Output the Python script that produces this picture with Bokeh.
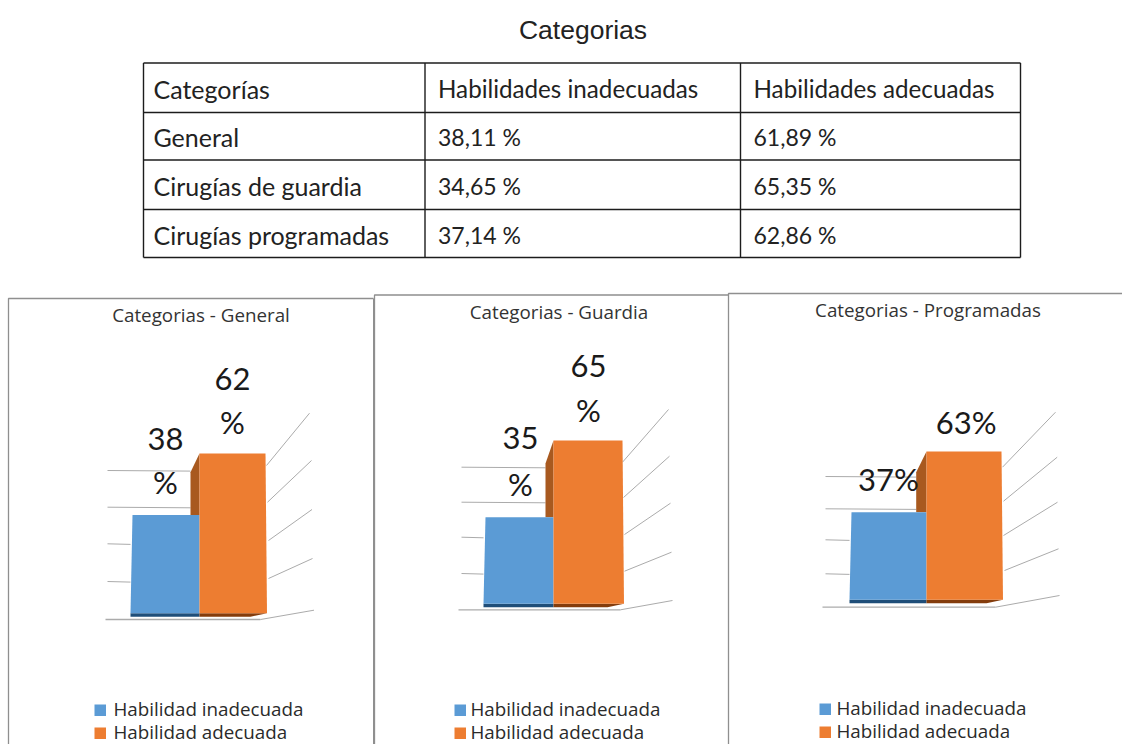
from bokeh.core.properties import value
from bokeh.embed import file_html
from bokeh.models import Range1d
from bokeh.plotting import figure
from bokeh.resources import INLINE

# ---- data ----
categories = ["General", "Cirugías de guardia", "Cirugías programadas"]
inadequate = [38.11, 34.65, 37.14]
adequate = [61.89, 65.35, 62.86]
table_header = ["Categorías", "Habilidades inadecuadas", "Habilidades adecuadas"]
panel_titles = ["Categorias - General", "Categorias - Guardia", "Categorias - Programadas"]
legend_labels = ["Habilidad inadecuada", "Habilidad adecuada"]
page_title = "Categorias"

BLUE, ORANGE = "#5B9BD5", "#ED7D31"
BLUE_FOOT, ORANGE_FOOT = "#1F4E79", "#843C0C"
ORANGE_SIDE = "#A8591F"
GRID, FRAME, INK = "#ABABAB", "#8F8F8F", "#222222"
BODY_FONT = value("Lato")
SMALL_FONT = value("Open Sans")

p = figure(width=1122, height=744, x_range=Range1d(0, 1122), y_range=Range1d(744, 0),
           output_backend="svg", toolbar_location=None, min_border=0,
           background_fill_color="white", outline_line_color=None)
p.axis.visible = False
p.grid.visible = False


def label(x, y, text, size, font=BODY_FONT, align="left", color=INK):
    p.text([x], [y], text=[text], text_font=font, text_font_size=f"{size}px",
           text_align=align, text_baseline="middle", text_color=color)


# ---- summary table ----
label(582.5, 29, page_title, 26.5, value("Liberation Sans"), "center")

table_x = [143, 424.5, 740, 1020]
table_y = [62.5, 112, 159.5, 209, 257]
for x in table_x:
    p.line([x, x], [table_y[0], table_y[-1]], line_color="#1c1c1c", line_width=1.4)
for y in table_y:
    p.line([table_x[0], table_x[-1]], [y, y], line_color="#1c1c1c", line_width=1.4)

rows = [table_header] + [
    [c, f"{a:.2f} %".replace(".", ","), f"{b:.2f} %".replace(".", ",")]
    for c, a, b in zip(categories, inadequate, adequate)
]
for r, row in enumerate(rows):
    y = (table_y[r] + table_y[r + 1]) / 2 + 1
    for c, cell in enumerate(row):
        size = 25 if c == 0 else (24.2 if r == 0 else 23)
        label(table_x[c] + (10 if c == 0 else 13), y, cell, size)

# ---- bar panels: frame and layout of each 3D-style chart ----
panels = [
    dict(left=8, right=373, top=298, base=612.7, scale=2.58,
         x=(130, 199, 265, 190), floor_y=619, floor_x=(105, 260),
         left_grid=[470, 506.7, 543.3, 581], grid_x=107,
         right_grid=[(266, 465, 309, 412.7), (267, 501.7, 311, 460), (268, 540, 311.5, 509),
                     (268, 578, 312, 558), (260, 619, 313.5, 609.7)],
         title_xy=(200.5, 314), side_top=471.7,
         labels=[(165, 438, "{a}"), (165, 481.7, "%"), (232, 378, "{b}"), (232, 421.7, "%")],
         legend_box=(94, 704), legend_text=113, legend_gap=23),
    dict(left=374, right=728, top=294.5, base=603.3, scale=2.5,
         x=(483, 553, 622, 545), floor_y=609.3, floor_x=(458, 620),
         left_grid=[466.7, 501.7, 536.7, 573], grid_x=461,
         right_grid=[(622, 461.7, 668, 409), (623, 497, 669, 455.7), (624, 534, 670, 502.7),
                     (624, 570.7, 671, 551.7), (620, 609.3, 672, 600)],
         title_xy=(558.5, 311), side_top=463,
         labels=[(520, 437.7, "{a}"), (520, 483, "%"), (588, 365.7, "{b}"), (588, 409, "%")],
         legend_box=(454, 704), legend_text=470, legend_gap=23),
    dict(left=728, right=1122, top=293, base=599.3, scale=2.36,
         x=(849, 926, 1001, 915.7), floor_y=606.7, floor_x=(822, 995),
         left_grid=[476, 508.3, 539.3, 573.3], grid_x=825,
         right_grid=[(1002, 466.7, 1055, 411.7), (1003, 500.7, 1056.7, 456.7), (1003, 535, 1057, 501.7),
                     (1004, 570, 1058, 548.3), (995, 606.7, 1059, 595)],
         title_xy=(927.5, 309), side_top=471.7,
         labels=[(888, 478, "{a}%"), (965.7, 421.7, "{b}%")],
         legend_box=(819, 703), legend_text=836, legend_gap=23),
]

for i, cfg in enumerate(panels):
    # frame, open at the bottom of the page
    right_edge = [cfg["right"], cfg["right"]] if i < 2 else [1122, 1122]
    p.line([cfg["left"], cfg["left"], right_edge[0]], [744, cfg["top"], cfg["top"]],
           line_color=FRAME, line_width=1.3)
    if i == 0:
        p.line([cfg["right"], cfg["right"]], [cfg["top"], 744], line_color=FRAME, line_width=1)

    label(*cfg["title_xy"], panel_titles[i], 18.8, SMALL_FONT, "center", "#333333")

    # gridlines of the receding walls
    x_left, x_mid, x_right, x_side = cfg["x"]
    for j, y in enumerate(cfg["left_grid"]):
        stop = x_side if j < 2 else x_left
        p.line([cfg["grid_x"], stop], [y, y + 0.6], line_color=GRID, line_width=1)
    p.line(list(cfg["floor_x"]), [cfg["floor_y"]] * 2, line_color=GRID, line_width=1.3)
    for x0, y0, x1, y1 in cfg["right_grid"]:
        p.line([x0, x1], [y0, y1], line_color=GRID, line_width=1)

    # value axis of this panel: 0 sits on the bar base, one unit spans `scale` pixels
    rng = f"values_{i}"
    p.extra_y_ranges[rng] = Range1d(start=(cfg["base"] - 744) / cfg["scale"],
                                    end=cfg["base"] / cfg["scale"])
    a, b = inadequate[i], adequate[i]
    per_px = 1 / cfg["scale"]

    # footprints under the bars
    foot = 3.5 * per_px
    p.patch([x_left, x_mid, x_mid, x_left], [0, 0, -foot, -foot],
            y_range_name=rng, fill_color=BLUE_FOOT, line_color=None)
    p.patch([x_mid, x_right + 1.5, x_right - 15, x_mid], [0, 0, -foot, -foot],
            y_range_name=rng, fill_color=ORANGE_FOOT, line_color=None)

    # shaded side of the taller bar
    drop = (cfg["side_top"] - (cfg["base"] - b * cfg["scale"])) * per_px
    p.patch([x_side, x_mid, x_mid, x_side], [a, a, b, b - drop],
            y_range_name=rng, fill_color=ORANGE_SIDE, line_color=None)

    # front faces, leaning slightly with the perspective
    p.patch([x_left, x_left + 2, x_mid, x_mid], [0, a, a, 0],
            y_range_name=rng, fill_color=BLUE, line_color=None)
    p.patch([x_mid, x_mid, x_right, x_right + 1.5], [0, b, b, 0],
            y_range_name=rng, fill_color=ORANGE, line_color=None)

    # value labels, wrapped the way the narrow data boxes wrap them
    for x, y, fmt in cfg["labels"]:
        label(x, y, fmt.format(a=round(a), b=round(b)), 31, align="center", color="#1a1a1a")

    # legend
    bx, by = cfg["legend_box"]
    for k, (name, colour) in enumerate(zip(legend_labels, (BLUE, ORANGE))):
        y = by + k * cfg["legend_gap"]
        p.quad(left=[bx], right=[bx + 11.5], top=[y], bottom=[y + 11.5],
               fill_color=colour, line_color=None)
        label(cfg["legend_text"], y + 4, name, 18.8, SMALL_FONT, "left", "#2a2a2a")

open("out.html", "w").write(file_html(p, INLINE))
